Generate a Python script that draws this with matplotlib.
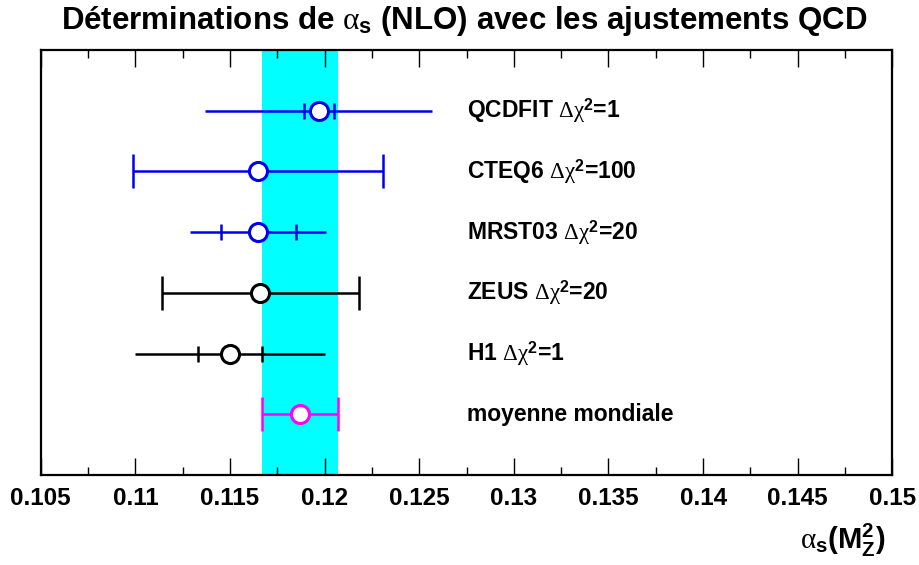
import matplotlib
matplotlib.use("Agg")
import matplotlib.pyplot as plt
from matplotlib.ticker import MultipleLocator, FixedLocator

plt.rcParams['font.family'] = ['Liberation Sans', 'DejaVu Sans']
plt.rcParams['mathtext.fontset'] = 'custom'
plt.rcParams['mathtext.rm'] = 'Liberation Serif:weight=normal:style=normal'
plt.rcParams['mathtext.it'] = 'Liberation Serif:weight=normal:style=normal'
plt.rcParams['mathtext.bf'] = 'Liberation Sans:weight=bold'
plt.rcParams['mathtext.default'] = 'rm'

# alpha_s(M_Z^2) determinations, listed top to bottom
names = ['QCDFIT', 'CTEQ6', 'MRST03', 'ZEUS', 'H1', 'moyenne mondiale']
dchi2 = ['1', '100', '20', '20', '1', None]
central = [0.1197, 0.1165, 0.1165, 0.1166, 0.1150, 0.1187]
err_total = [0.0060, 0.0066, 0.0036, 0.0052, 0.0050, 0.0020]
err_inner = [0.0008, None, 0.0020, None, 0.0017, None]
colors = ['#0000ee', '#0000ee', '#0000ee', 'black', 'black', '#ff00ff']
end_caps = [False, True, False, True, False, True]

xticks = [0.105, 0.11, 0.115, 0.12, 0.125, 0.13, 0.135, 0.14, 0.145, 0.15]
xticklabels = ['0.105', '0.11', '0.115', '0.12', '0.125', '0.13', '0.135', '0.14', '0.145', '0.15']

fig = plt.figure(figsize=(9.19, 5.65), dpi=100)
ax = fig.add_axes([0.0443, 0.1593, 0.9267, 0.7522])

n = len(names)
ypos = [n - i for i in range(n)]

# world-average band
wa_c, wa_e = central[-1], err_total[-1]
ax.axvspan(wa_c - wa_e, wa_c + wa_e, color='#00ffff', zorder=0, lw=0)

for i in range(n):
    c, y, col = central[i], ypos[i], colors[i]
    ax.errorbar([c], [y], xerr=[err_total[i]], fmt='none', ecolor=col,
                elinewidth=1.8, capsize=12 if end_caps[i] else 0,
                capthick=1.8, zorder=2)
    if err_inner[i] is not None:
        ax.plot([c - err_inner[i], c + err_inner[i]], [y, y], ls='none',
                marker='|', ms=11, mew=1.8, color=col, zorder=2)
    ax.plot([c], [y], marker='o', ms=13, mfc='white', mec=col, mew=2.2,
            zorder=3)
    if dchi2[i] is not None:
        label = names[i] + r' $\Delta\chi^{\mathbf{2}}$=' + dchi2[i]
    else:
        label = names[i]
    ax.text(0.1275, y, label, fontsize=16.5, fontweight='bold',
            ha='left', va='center')

ax.set_xlim(0.105, 0.15)
ax.set_ylim(0, 7)
ax.xaxis.set_major_locator(FixedLocator(xticks))
ax.set_xticklabels(xticklabels)
ax.xaxis.set_minor_locator(MultipleLocator(0.0025))
ax.set_yticks([])
ax.tick_params(axis='x', which='both', direction='in', top=True,
               bottom=True, labelsize=17.5, pad=9)
ax.tick_params(axis='x', which='major', length=12, width=1.0)
ax.tick_params(axis='x', which='minor', length=6, width=1.0)
for lab in ax.get_xticklabels():
    lab.set_fontweight('bold')
for sp in ax.spines.values():
    sp.set_linewidth(1.6)

fig.text(0.505, 0.962, r'Déterminations de $\alpha_{\mathbf{s}}$ (NLO) avec les ajustements QCD',
         ha='center', va='center', fontsize=22.5, fontweight='bold')
fig.text(0.963, 0.043, r'$\alpha_{\mathbf{s}}\mathbf{(M_{Z}^{2})}$',
         ha='right', va='center', fontsize=21, fontweight='bold')

fig.savefig('out.png', dpi=100)
